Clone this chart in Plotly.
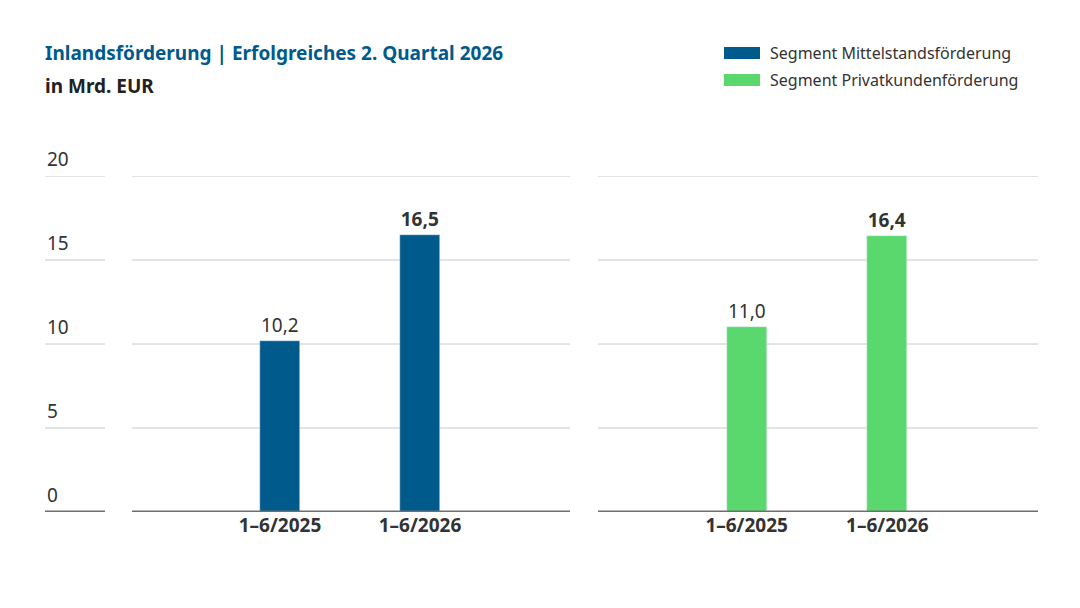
import plotly.graph_objects as go

periods = ["1–6/2025", "1–6/2026"]
mittelstand = [10.2, 16.5]
privatkunden = [11.0, 16.4]
segments = ["Segment Mittelstandsförderung", "Segment Privatkundenförderung"]
y_ticks = [0, 5, 10, 15, 20]

BLUE = "#005a8c"
GREEN = "#5ad86e"
TEXT = "#333333"
FONT = "Noto Sans"
W, H = 1080, 608
# the page adds a small offset; compensate so marks land where the reference has them
DX, DY = -8, -7


def px(x):
    return (x + DX) / W


def py(y):
    return 1 - (y + DY) / H


def fmt(v):
    return f"{v:.1f}".replace(".", ",")


fig = go.Figure()
for vals, color, xa in [(mittelstand, BLUE, "x"), (privatkunden, GREEN, "x2")]:
    fig.add_trace(go.Bar(
        x=periods, y=vals, marker_color=color, width=0.286, xaxis=xa, yaxis="y",
        text=[fmt(v) for v in vals], textposition="outside", cliponaxis=False,
        texttemplate=["%{text}", "<b>%{text}</b>"],
        textfont=dict(size=19, color=TEXT, family=FONT), showlegend=False,
    ))

xr = [-148 / 140, 1 + 150 / 140]
axis_common = dict(range=xr, showgrid=False, zeroline=False, showline=False, ticks="",
                   tickfont=dict(size=19, color=TEXT, family=FONT), anchor="y")
fig.update_layout(
    width=W, height=H, margin=dict(l=0, r=0, t=0, b=0),
    plot_bgcolor="white", paper_bgcolor="white", bargap=0,
    xaxis=dict(domain=[px(132), px(570)], **axis_common),
    xaxis2=dict(domain=[px(598), px(1038)], **axis_common),
    yaxis=dict(domain=[py(511), py(175)], range=[0, 20], showgrid=False, zeroline=False,
               showticklabels=False),
)
fig.update_xaxes(tickprefix="<b>", ticksuffix="</b>")

shapes = []
annotations = []
for t in y_ticks:
    base = t == 0
    for x0, x1 in [(45, 105), (132, 570), (598, 1038)]:
        shapes.append(dict(type="line", xref="paper", yref="y", x0=px(x0), x1=px(x1),
                           y0=t, y1=t, layer="above" if base else "below",
                           line=dict(color="#6e6e6e" if base else "#c8c8c8",
                                     width=3 if base else 1)))
    annotations.append(dict(xref="paper", yref="y", x=px(45), y=t, text=str(t),
                            showarrow=False, xanchor="left", yanchor="bottom", yshift=2,
                            font=dict(size=19, color=TEXT, family=FONT)))

annotations.append(dict(xref="paper", yref="paper", x=px(43), y=py(52),
                        text="<b>Inlandsförderung | Erfolgreiches 2. Quartal 2026</b>",
                        showarrow=False, xanchor="left", yanchor="middle",
                        font=dict(size=19, color=BLUE, family=FONT)))
annotations.append(dict(xref="paper", yref="paper", x=px(43), y=py(85),
                        text="<b>in Mrd. EUR</b>", showarrow=False, xanchor="left",
                        yanchor="middle", font=dict(size=19, color="#222222", family=FONT)))

for i, (name, color) in enumerate(zip(segments, [BLUE, GREEN])):
    yc = 52 + i * 27
    shapes.append(dict(type="rect", xref="paper", yref="paper", x0=px(724), x1=px(760),
                       y0=py(yc + 6), y1=py(yc - 6), fillcolor=color,
                       line=dict(width=0)))
    annotations.append(dict(xref="paper", yref="paper", x=px(768), y=py(yc), text=name,
                            showarrow=False, xanchor="left", yanchor="middle",
                            font=dict(size=16, color=TEXT, family=FONT)))

fig.update_layout(shapes=shapes, annotations=annotations)
fig.write_html("out.html")
